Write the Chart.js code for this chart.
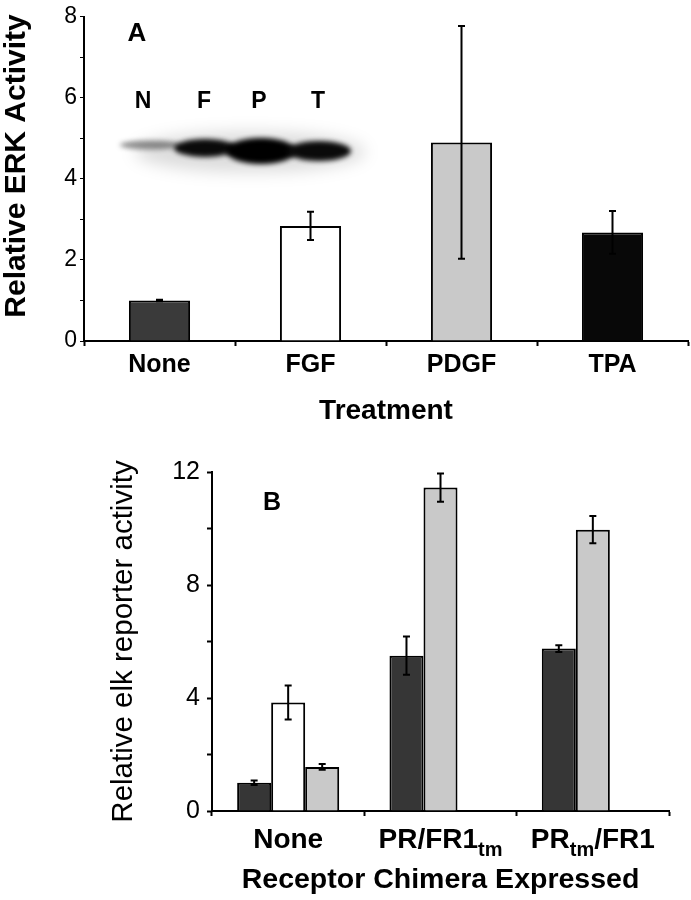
<!DOCTYPE html>
<html>
<head>
    <title>ERK and elk reporter activity</title>
    <script src="https://cdn.jsdelivr.net/npm/chart.js"></script>
    <style>
        body {
            margin: 0;
            padding: 0;
            background: #fff;
            width: 691px;
            height: 900px;
            position: relative;
            overflow: hidden;
        }
        .panel {
            position: absolute;
            left: 0;
            width: 691px;
        }
        #panelA { top: 0; height: 445px; }
        #panelB { top: 445px; height: 455px; }
    </style>
</head>
<body>
    <div class="panel" id="panelA"><canvas id="chartA"></canvas></div>
    <div class="panel" id="panelB"><canvas id="chartB"></canvas></div>

    <script>
        // Panel A - ERK activity per treatment
        const treatments = ['None', 'FGF', 'PDGF', 'TPA'];
        const erkActivity = [1.0, 2.84, 4.9, 2.68];
        const erkError = [0.02, 0.35, 2.87, 0.53];
        const erkColors = ['#3a3a3a', '#ffffff', '#c9c9c9', '#080808'];
        const erkTickLabels = [0, 2, 4, 6, 8];
        const blotLanes = ['N', 'F', 'P', 'T'];

        // Panel B - elk reporter per receptor chimera
        const chimeras = ['None', 'PR/FR1_{tm}', 'PR_{tm}/FR1'];
        const elkFirst = [1.0, 5.5, 5.75];
        const elkFirstErr = [0.08, 0.68, 0.12];
        const elkSecond = [3.84, 11.45, 9.96];
        const elkSecondErr = [0.6, 0.5, 0.48];
        const elkThird = [1.56, null, null];
        const elkThirdErr = [0.1, null, null];
        const elkTickLabels = [0, 4, 8, 12];

        const FONT = "'Liberation Sans', Arial, Helvetica, sans-serif";
        Chart.defaults.font.family = FONT;
        Chart.defaults.color = '#000';

        const errorBars = {
            id: 'errorBars',
            afterDatasetsDraw(chart) {
                const ctx = chart.ctx;
                const y = chart.scales.y;
                chart.data.datasets.forEach((ds, i) => {
                    if (!ds.errors) return;
                    chart.getDatasetMeta(i).data.forEach((bar, j) => {
                        const v = ds.data[j], e = ds.errors[j];
                        if (v == null || e == null) return;
                        const top = y.getPixelForValue(v + e);
                        const bot = y.getPixelForValue(v - e);
                        ctx.save();
                        ctx.strokeStyle = '#000';
                        ctx.lineWidth = 2;
                        ctx.beginPath();
                        ctx.moveTo(bar.x, top); ctx.lineTo(bar.x, bot);
                        ctx.moveTo(bar.x - 3.5, top); ctx.lineTo(bar.x + 3.5, top);
                        ctx.moveTo(bar.x - 3.5, bot); ctx.lineTo(bar.x + 3.5, bot);
                        ctx.stroke();
                        ctx.restore();
                    });
                });
            }
        };

        // western blot inset, lane letters, panel letter and y title for A
        const blotInset = {
            id: 'blotInset',
            beforeDatasetsDraw(chart) {
                const ctx = chart.ctx;
                ctx.save();
                ctx.filter = 'blur(8px)';
                ctx.fillStyle = 'rgba(0,0,0,0.14)';
                ctx.beginPath(); ctx.ellipse(250, 152, 115, 20, 0, 0, Math.PI * 2); ctx.fill();
                ctx.filter = 'blur(2.5px)';
                ctx.fillStyle = 'rgba(40,40,40,0.5)';
                ctx.beginPath(); ctx.ellipse(150, 145, 30, 4.5, 0, 0, Math.PI * 2); ctx.fill();
                ctx.fillStyle = '#0a0a0a';
                ctx.beginPath(); ctx.ellipse(205, 148, 31, 9, 0, 0, Math.PI * 2); ctx.fill();
                ctx.fillStyle = '#000';
                ctx.beginPath(); ctx.ellipse(261, 151, 35, 13, 0, 0, Math.PI * 2); ctx.fill();
                ctx.fillStyle = '#0a0a0a';
                ctx.beginPath(); ctx.ellipse(319, 151, 32, 10, 0, 0, Math.PI * 2); ctx.fill();
                ctx.filter = 'none';

                ctx.fillStyle = '#000';
                ctx.textAlign = 'center';
                ctx.textBaseline = 'middle';
                ctx.font = 'bold 23px ' + FONT;
                const laneX = [143, 204, 259, 318];
                blotLanes.forEach((t, i) => ctx.fillText(t, laneX[i], 102));
                ctx.font = 'bold 26px ' + FONT;
                ctx.fillText('A', 137, 34);

                ctx.translate(17, 166);
                ctx.rotate(-Math.PI / 2);
                ctx.font = 'bold 30px ' + FONT;
                ctx.fillText('Relative ERK Activity', 0, 0);
                ctx.restore();
            }
        };

        // x labels with subscripts and panel letter for B
        const chimeraLabels = {
            id: 'chimeraLabels',
            afterDraw(chart) {
                const ctx = chart.ctx;
                const x = chart.scales.x;
                ctx.save();
                ctx.fillStyle = '#000';
                ctx.textBaseline = 'alphabetic';
                ctx.textAlign = 'left';
                chimeras.forEach((lab, j) => {
                    const parts = lab.split(/_\{([^}]*)\}/);
                    let w = 0;
                    parts.forEach((p, k) => {
                        ctx.font = (k % 2 ? 'bold 20px ' : 'bold 28px ') + FONT;
                        w += ctx.measureText(p).width;
                    });
                    let cx = x.getPixelForValue(j) - w / 2;
                    const base = x.top + 37;
                    parts.forEach((p, k) => {
                        ctx.font = (k % 2 ? 'bold 20px ' : 'bold 28px ') + FONT;
                        ctx.fillText(p, cx, k % 2 ? base + 8 : base);
                        cx += ctx.measureText(p).width;
                    });
                });
                ctx.textAlign = 'center';
                ctx.textBaseline = 'middle';
                ctx.font = 'bold 25px ' + FONT;
                ctx.fillText('B', 272, 58);
                ctx.restore();
            }
        };

        new Chart(document.getElementById('chartA'), {
            type: 'bar',
            data: {
                labels: treatments,
                datasets: [{
                    data: erkActivity,
                    errors: erkError,
                    backgroundColor: erkColors,
                    borderColor: '#000',
                    borderWidth: 2,
                    categoryPercentage: 1,
                    barPercentage: 0.405
                }]
            },
            options: {
                responsive: true,
                maintainAspectRatio: false,
                animation: false,
                layout: { padding: { top: 14, right: 3, left: 0, bottom: 0 } },
                plugins: { legend: { display: false }, tooltip: { enabled: false } },
                scales: {
                    x: {
                        afterFit: s => { s.height = 104; },
                        border: { color: '#000', width: 2 },
                        grid: { drawOnChartArea: false, tickLength: 5, tickColor: '#000', tickWidth: 2 },
                        ticks: { font: { size: 25, weight: 'bold' }, padding: 4 },
                        title: {
                            display: true, text: 'Treatment',
                            font: { size: 28, weight: 'bold' },
                            padding: { top: 0, bottom: 17 }
                        }
                    },
                    y: {
                        min: 0, max: 8,
                        afterFit: s => { s.width = 84; },
                        border: { color: '#000', width: 2 },
                        grid: { drawOnChartArea: false, tickLength: 4, tickColor: '#000', tickWidth: 1 },
                        ticks: {
                            stepSize: 1, padding: 3,
                            font: { size: 23 },
                            callback: v => erkTickLabels.includes(v) ? v : ''
                        }
                    }
                }
            },
            plugins: [blotInset, errorBars]
        });

        new Chart(document.getElementById('chartB'), {
            type: 'bar',
            data: {
                labels: chimeras,
                datasets: [
                    { data: elkFirst, errors: elkFirstErr, backgroundColor: '#363636' },
                    { data: elkSecond, errors: elkSecondErr, backgroundColor: ['#ffffff', '#c9c9c9', '#c9c9c9'] },
                    { data: elkThird, errors: elkThirdErr, backgroundColor: '#c9c9c9' }
                ].map(d => Object.assign(d, {
                    borderColor: '#000', borderWidth: 2,
                    categoryPercentage: 0.67, barPercentage: 1
                }))
            },
            options: {
                responsive: true,
                maintainAspectRatio: false,
                animation: false,
                layout: { padding: { top: 27, right: 22, left: 0, bottom: 0 } },
                plugins: { legend: { display: false }, tooltip: { enabled: false } },
                scales: {
                    x: {
                        afterFit: s => { s.height = 89; },
                        border: { color: '#000', width: 2 },
                        grid: { drawOnChartArea: false, tickLength: 5, tickColor: '#000', tickWidth: 2 },
                        ticks: { callback: () => '' },
                        title: {
                            display: true, text: 'Receptor Chimera Expressed',
                            font: { size: 28.5, weight: 'bold' },
                            padding: { top: 0, bottom: 3 }
                        }
                    },
                    y: {
                        min: 0, max: 12,
                        afterFit: s => { s.width = 212; },
                        border: { color: '#000', width: 2 },
                        grid: { drawOnChartArea: false, tickLength: 5, tickColor: '#000', tickWidth: 2 },
                        ticks: {
                            stepSize: 2, padding: 7,
                            font: { size: 25 },
                            callback: v => elkTickLabels.includes(v) ? v : ''
                        },
                        title: {
                            display: true, text: 'Relative elk reporter activity',
                            font: { size: 29.5 },
                            padding: { top: 106, bottom: 0 }
                        }
                    }
                }
            },
            plugins: [errorBars, chimeraLabels]
        });
    </script>
</body>
</html>
